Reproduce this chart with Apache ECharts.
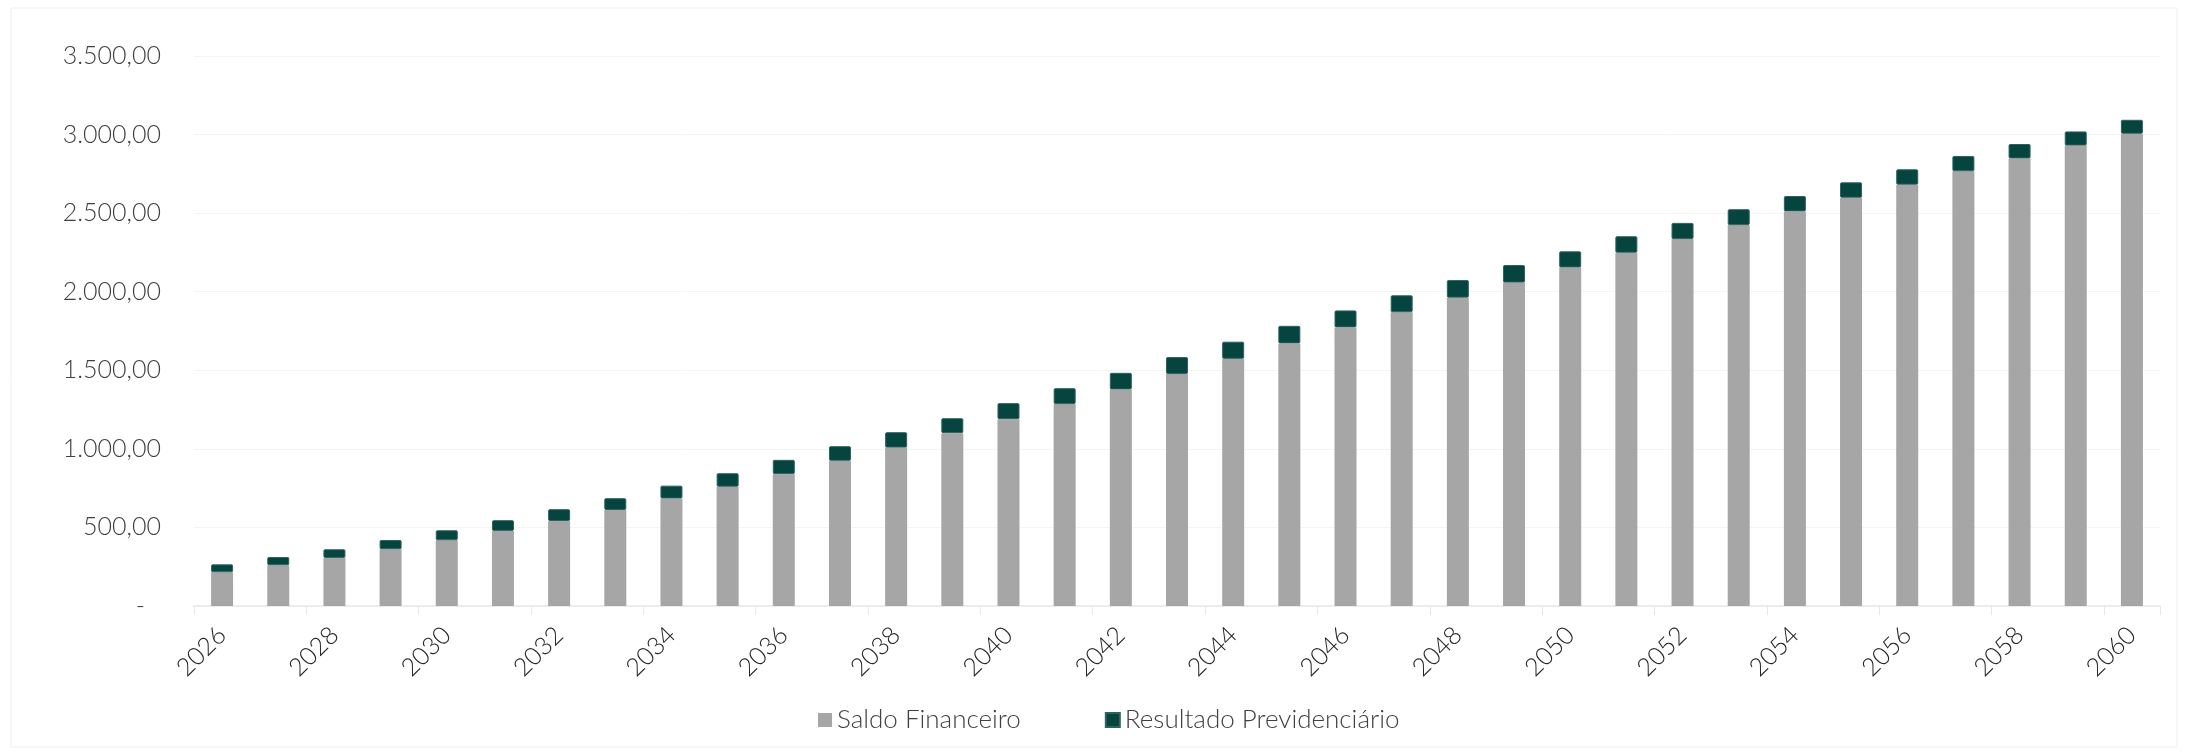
<!DOCTYPE html>
<html>
<head>
<meta charset="utf-8">
<title>Saldo Financeiro</title>
<script src="https://cdn.jsdelivr.net/npm/echarts@6.0.0/dist/echarts.min.js"></script>
<style>
	html, body { margin: 0; padding: 0; background: #ffffff; }
	#saldoChart { width: 2188px; height: 755px; }
</style>
</head>
<body>
<div id="saldoChart"></div>
<script>
var anos = ['2026','2027','2028','2029','2030','2031','2032','2033','2034','2035',
	'2036','2037','2038','2039','2040','2041','2042','2043','2044','2045',
	'2046','2047','2048','2049','2050','2051','2052','2053','2054','2055',
	'2056','2057','2058','2059','2060'];

// valores
var saldoFinanceiro = [214, 259, 306, 361, 418, 478, 541, 611, 684, 759,
	839, 924, 1008, 1100, 1189, 1285, 1378, 1476, 1573, 1671,
	1773, 1869, 1962, 2058, 2154, 2248, 2335, 2424, 2511, 2598,
	2681, 2766, 2848, 2930, 3005];
var resultadoPrev = [51, 53, 55, 59, 64, 68, 75, 75, 82, 86,
	91, 93, 98, 95, 102, 101, 106, 108, 109, 112,
	108, 108, 112, 112, 103, 105, 103, 101, 98, 98,
	98, 98, 92, 90, 89];

var yMin = 0, yMax = 3500, yStep = 500;
var nomes = ['Saldo Financeiro', 'Resultado Previdenciário'];

var fmtBR = function(v){
	if (v === 0) return '{d|-}';
	var s = String(Math.round(v)).replace(/\B(?=(\d{3})+(?!\d))/g, '.');
	return s + ',00';
};

var saldoBar = function(dom){
	dom.innerHTML = '';
	var myChart = echarts.init(dom);
	var fonte = 'Lato, "Noto Sans", sans-serif';

	var option = {
		backgroundColor: '#ffffff',
		animation: false,
		graphic: [{
			type: 'rect',
			shape: { x: 11, y: 8, width: 2166, height: 739 },
			style: { fill: 'none', stroke: '#efefef', lineWidth: 1 },
			silent: true,
			z: -1
		}],
		grid: { left: 194, right: 28, top: 56, bottom: 149 },
		legend: {
			data: nomes,
			left: 813,
			top: 702,
			icon: 'rect',
			itemWidth: 14,
			itemHeight: 14,
			itemGap: 84,
			textStyle: { fontFamily: fonte, fontSize: 26, fontWeight: 300, color: '#404040' }
		},
		xAxis: {
			type: 'category',
			data: anos,
			boundaryGap: true,
			axisLine: { lineStyle: { color: '#e8e8e8', width: 1.5 } },
			axisTick: { show: true, interval: 1, length: 9, lineStyle: { color: '#e8e8e8' } },
			axisLabel: {
				interval: 1,
				rotate: 45,
				margin: 25,
				fontFamily: fonte,
				fontSize: 25,
				fontWeight: 300,
				color: '#262626'
			}
		},
		yAxis: {
			type: 'value',
			min: yMin,
			max: yMax,
			interval: yStep,
			axisLine: { show: false },
			axisTick: { show: false },
			splitLine: { lineStyle: { color: '#f4f4f4', width: 1 } },
			axisLabel: {
				margin: 33,
				fontFamily: fonte,
				fontSize: 25,
				fontWeight: 300,
				color: '#404040',
				formatter: fmtBR,
				rich: {
					d: { fontFamily: fonte, fontSize: 25, color: '#404040', padding: [0, 16, 0, 0] }
				}
			}
		},
		series: [
			{
				name: nomes[0],
				type: 'bar',
				stack: 'total',
				barWidth: 22,
				data: saldoFinanceiro,
				itemStyle: { color: '#a6a6a6' }
			},
			{
				name: nomes[1],
				type: 'bar',
				stack: 'total',
				barWidth: 22,
				data: resultadoPrev,
				itemStyle: { color: '#06443f', borderColor: '#2e625e', borderWidth: 1, borderRadius: 1 }
			}
		]
	};

	myChart.setOption(option, true);
	window.addEventListener('resize', function(){
		myChart.resize();
	});
};

saldoBar(document.getElementById('saldoChart'));
</script>
</body>
</html>
